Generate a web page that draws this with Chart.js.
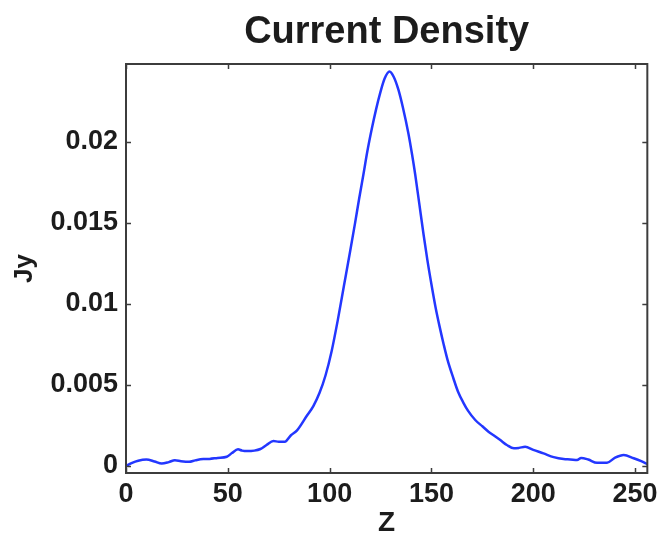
<!DOCTYPE html>
<html>
<head>
<meta charset="utf-8">
<script src="https://cdn.jsdelivr.net/npm/chart.js@4/dist/chart.umd.min.js"></script>
<style>
  html, body { margin: 0; padding: 0; background: #ffffff; }
  #wrap { width: 663px; height: 534px; position: relative; }
</style>
</head>
<body>
<div id="wrap"><canvas id="c" width="663" height="534"></canvas></div>
<script>
// ---- data ----
const zValues = [0, 3, 6, 10, 14, 17.5, 21, 24, 27, 31, 34, 38, 41, 45, 49.5, 52, 55, 57, 59.5, 63, 66, 69, 72.4, 75, 78, 81, 84, 88.8, 92, 95, 98,
  101, 104, 107, 110, 112.5, 114.5, 116.6, 118.5, 120.7, 122.8, 124.8, 127, 129.4, 131.5, 133.8, 136, 138.7, 140.5, 142, 144, 146.1,
  148, 150, 152, 154, 156, 158, 160.8, 163, 165.7, 168, 171.5, 175, 178, 180.5, 183.8, 187, 190.5, 193, 196, 200, 205, 210, 214.9,
  218.2, 221.5, 223.5, 227, 231.3, 236.2, 240, 244.4, 249.3, 253, 256];
const jyValues = [0.0000, 0.0002, 0.00033, 0.0004, 0.00028, 0.00015, 0.00024, 0.00036, 0.0003, 0.00026, 0.00035, 0.00043, 0.00044, 0.0005, 0.00057, 0.0008, 0.00103, 0.00095, 0.00092, 0.00095, 0.00105, 0.0013, 0.00154, 0.0015, 0.0015, 0.0019, 0.0022, 0.0031, 0.0037, 0.0045, 0.0056,
  0.0071, 0.0090, 0.0111, 0.0132, 0.0150, 0.0165, 0.0180, 0.0194, 0.0208, 0.0220, 0.0230, 0.0239, 0.02434, 0.0240, 0.0232, 0.0221, 0.0205, 0.0192, 0.0180, 0.0162, 0.0143,
  0.0127, 0.0112, 0.0098, 0.0086, 0.0075, 0.0065, 0.0054, 0.0046, 0.0039, 0.0034, 0.00284, 0.00245, 0.00212, 0.0019, 0.0016, 0.0013, 0.00109, 0.00112, 0.00119, 0.001, 0.00078, 0.00055, 0.00043,
  0.00041, 0.00037, 0.0005, 0.0004, 0.0002, 0.0002, 0.0005, 0.00068, 0.00048, 0.0003, 0.00012];

const xTickValues = [0, 50, 100, 150, 200, 250];
const xTickLabels = ['0', '50', '100', '150', '200', '250'];
const yTickValues = [0, 0.005, 0.01, 0.015, 0.02];
const yTickLabels = ['0', '0.005', '0.01', '0.015', '0.02'];

const titleText = 'Current Density';
const xTitle = 'Z';
const yTitle = 'Jy';

const points = zValues.map((z, i) => ({ x: z, y: jyValues[i] }));

const FONT = "'Liberation Sans', Arial, Helvetica, sans-serif";
const TXT = '#1c1c1c';

const boxPlugin = {
  id: 'boxTicks',
  afterDraw(chart) {
    const { ctx, chartArea: { left, right, top, bottom }, scales: { x, y } } = chart;
    ctx.save();
    ctx.strokeStyle = '#3c3c3c';
    ctx.lineWidth = 2;
    ctx.strokeRect(left, top, right - left, bottom - top);
    ctx.lineWidth = 1.5;
    const L = 5;
    ctx.beginPath();
    x.ticks.forEach(t => {
      const px = Math.round(x.getPixelForValue(t.value)) + 0.5;
      ctx.moveTo(px, bottom); ctx.lineTo(px, bottom - L);
      ctx.moveTo(px, top); ctx.lineTo(px, top + L);
    });
    y.ticks.forEach(t => {
      const py = Math.round(y.getPixelForValue(t.value)) + 0.5;
      ctx.moveTo(left, py); ctx.lineTo(left + L, py);
      ctx.moveTo(right, py); ctx.lineTo(right - L, py);
    });
    ctx.stroke();
    ctx.restore();
  }
};

new Chart(document.getElementById('c'), {
  type: 'scatter',
  data: {
    datasets: [{
      data: points,
      showLine: true,
      borderColor: 'rgb(35,55,255)',
      borderWidth: 2.5,
      pointRadius: 0,
      cubicInterpolationMode: 'monotone',
      fill: false
    }]
  },
  options: {
    responsive: false,
    animation: false,
    devicePixelRatio: 1,
    layout: { padding: { left: 0, right: 15, top: 0, bottom: 0 } },
    plugins: {
      legend: { display: false },
      tooltip: { enabled: false },
      title: {
        display: true,
        fullSize: false,
        text: titleText,
        color: TXT,
        font: { family: FONT, size: 38, weight: 'bold', lineHeight: 1.2 },
        padding: { top: 10, bottom: 8.4 }
      }
    },
    scales: {
      x: {
        type: 'linear',
        min: 0,
        max: 256,
        afterFit(scale) { scale.height = 61; },
        afterBuildTicks(scale) { scale.ticks = xTickValues.map(v => ({ value: v })); },
        grid: { display: false, drawTicks: false },
        border: { display: false },
        ticks: {
          padding: 5,
          color: TXT,
          font: { family: FONT, size: 27, weight: 'bold' },
          maxRotation: 0,
          autoSkip: false,
          callback: (v) => { const i = xTickValues.indexOf(v); return i >= 0 ? xTickLabels[i] : ''; }
        },
        title: {
          display: true,
          text: xTitle,
          color: TXT,
          font: { family: FONT, size: 28, weight: 'bold', lineHeight: 0.7 },
          padding: { top: 0, bottom: 1 }
        }
      },
      y: {
        type: 'linear',
        min: -0.00043,
        max: 0.0248,
        afterFit(scale) { scale.width = 126; },
        afterBuildTicks(scale) { scale.ticks = yTickValues.map(v => ({ value: v })); },
        grid: { display: false, drawTicks: false },
        border: { display: false },
        ticks: {
          padding: 8,
          color: TXT,
          font: { family: FONT, size: 27, weight: 'bold' },
          autoSkip: false,
          callback: (v) => { const i = yTickValues.indexOf(v); return i >= 0 ? yTickLabels[i] : ''; }
        },
        title: {
          display: true,
          text: yTitle,
          color: TXT,
          font: { family: FONT, size: 26, weight: 'bold', lineHeight: 1.2 },
          padding: { top: 9, bottom: 0 }
        }
      }
    }
  },
  plugins: [boxPlugin]
});
</script>
</body>
</html>
